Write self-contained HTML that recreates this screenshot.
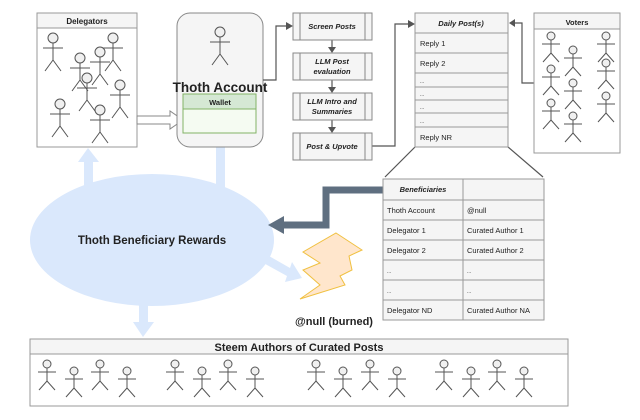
<!DOCTYPE html>
<html><head><meta charset="utf-8"><style>
body{margin:0;background:#fff;}
svg text{font-family:"Liberation Sans",Arial,sans-serif;fill:#222;}
</style></head><body>
<svg width="640" height="415" viewBox="0 0 640 415" xmlns="http://www.w3.org/2000/svg">
<defs>
<g id="sf" stroke="#555" stroke-width="1" fill="none">
<circle cx="0" cy="0" r="5" fill="#f0f0f0"/>
<line x1="0" y1="5" x2="0" y2="22"/><line x1="-10" y1="10" x2="10" y2="10"/>
<line x1="0" y1="22" x2="-8" y2="33"/><line x1="0" y1="22" x2="8" y2="33"/>
</g>
<g id="sm" stroke="#555" stroke-width="1" fill="none">
<circle cx="0" cy="0" r="4" fill="#f0f0f0"/>
<line x1="0" y1="4" x2="0" y2="17"/><line x1="-9" y1="8" x2="9" y2="8"/>
<line x1="0" y1="17" x2="-8" y2="26"/><line x1="0" y1="17" x2="8" y2="26"/>
</g>
</defs>
<!-- light blue arrows up -->
<g fill="#dae8fc">
<rect x="84" y="160" width="9" height="30"/><polygon points="78,162 88,148 99,162"/>
<rect x="216" y="145" width="9" height="45"/><polygon points="210,147 220,133 231,147"/>
<rect x="139" y="300" width="9" height="25"/><polygon points="133,322 143,337 154,322"/>
<polygon points="262,252 290,268 292,262 302,278 285,282 287,276 258,260"/>
</g>
<!-- Delegators -->
<rect x="37" y="13" width="100" height="134" fill="#fff" stroke="#999"/>
<rect x="37" y="13" width="100" height="15" fill="#f5f5f5" stroke="#999"/>
<text x="87" y="24" font-size="8" font-weight="bold" text-anchor="middle">Delegators</text>
<use href="#sf" x="53" y="38"/><use href="#sf" x="80" y="58"/><use href="#sf" x="100" y="52"/><use href="#sf" x="113" y="38"/>
<use href="#sf" x="87" y="78"/><use href="#sf" x="120" y="85"/><use href="#sf" x="60" y="104"/><use href="#sf" x="100" y="110"/>
<!-- hollow arrow -->
<polygon points="137,116 170,116 170,111 183,120 170,129 170,124 137,124" fill="#fff" stroke="#888"/>
<!-- Thoth -->
<rect x="177" y="13" width="86" height="134" rx="13" fill="#f5f5f5" stroke="#888"/>
<use href="#sf" x="220" y="32"/>
<text x="220" y="92" font-size="13.5" font-weight="bold" text-anchor="middle">Thoth Account</text>
<rect x="183" y="94" width="73" height="39" fill="#f5fbf2" stroke="#82b366"/>
<rect x="183" y="94" width="73" height="15" fill="#d5e8d4" stroke="#82b366"/>
<text x="220" y="105" font-size="7.5" font-weight="bold" text-anchor="middle">Wallet</text>
<!-- connectors -->
<g stroke="#555" fill="none" stroke-width="1.2">
<polyline points="263,80 276,80 276,26 287,26"/>
<polyline points="372,146 395,146 395,24 409,24"/>
<polyline points="534,83 522,83 522,23 514,23"/>
<line x1="332" y1="40" x2="332" y2="48"/><line x1="332" y1="80" x2="332" y2="88"/><line x1="332" y1="120" x2="332" y2="128"/>
<line x1="415" y1="147" x2="385" y2="177"/><line x1="508" y1="147" x2="543" y2="177"/>
</g>
<g fill="#555">
<polygon points="286,22 293,26 286,30"/><polygon points="408,20 415,24 408,28"/><polygon points="515,19 509,23 515,27"/>
<polygon points="328,47 332,53 336,47"/><polygon points="328,87 332,93 336,87"/><polygon points="328,127 332,133 336,127"/>
</g>
<!-- steps -->
<g stroke="#888" fill="#f5f5f5">
<rect x="293" y="13" width="79" height="27"/><rect x="293" y="53" width="79" height="27"/>
<rect x="293" y="93" width="79" height="27"/><rect x="293" y="133" width="79" height="27"/>
</g>
<g stroke="#888"><line x1="300" y1="13" x2="300" y2="40"/><line x1="365" y1="13" x2="365" y2="40"/>
<line x1="300" y1="53" x2="300" y2="80"/><line x1="365" y1="53" x2="365" y2="80"/>
<line x1="300" y1="93" x2="300" y2="120"/><line x1="365" y1="93" x2="365" y2="120"/>
<line x1="300" y1="133" x2="300" y2="160"/><line x1="365" y1="133" x2="365" y2="160"/></g>
<g font-size="7.5" font-weight="bold" font-style="italic" text-anchor="middle">
<text x="332" y="29">Screen Posts</text>
<text x="332" y="64">LLM Post</text><text x="332" y="74">evaluation</text>
<text x="332" y="104">LLM Intro and</text><text x="332" y="114">Summaries</text>
<text x="332" y="149">Post &amp; Upvote</text></g>
<!-- Daily posts -->
<g stroke="#999" fill="#f5f5f5">
<rect x="415" y="13" width="93" height="20"/><rect x="415" y="33" width="93" height="20"/><rect x="415" y="53" width="93" height="20"/>
<rect x="415" y="73" width="93" height="14"/><rect x="415" y="87" width="93" height="13"/><rect x="415" y="100" width="93" height="13"/>
<rect x="415" y="113" width="93" height="14"/><rect x="415" y="127" width="93" height="20"/></g>
<text x="461" y="26" font-size="7.5" font-weight="bold" font-style="italic" text-anchor="middle">Daily Post(s)</text>
<g font-size="7.5"><text x="420" y="46">Reply 1</text><text x="420" y="66">Reply 2</text>
<text x="420" y="83" font-size="5" fill="#888">...</text><text x="420" y="96" font-size="5" fill="#888">...</text>
<text x="420" y="109" font-size="5" fill="#888">...</text><text x="420" y="123" font-size="5" fill="#888">...</text>
<text x="420" y="140">Reply NR</text></g>
<!-- Voters -->
<rect x="534" y="13" width="86" height="140" fill="#fff" stroke="#999"/>
<rect x="534" y="13" width="86" height="16" fill="#f5f5f5" stroke="#999"/>
<text x="577" y="25" font-size="7.5" font-weight="bold" text-anchor="middle">Voters</text>
<use href="#sm" x="551" y="36"/><use href="#sm" x="573" y="50"/><use href="#sm" x="606" y="36"/><use href="#sm" x="551" y="69"/>
<use href="#sm" x="606" y="63"/><use href="#sm" x="573" y="83"/><use href="#sm" x="551" y="103"/><use href="#sm" x="606" y="96"/><use href="#sm" x="573" y="116"/>
<!-- ellipse -->
<ellipse cx="152" cy="240" rx="122" ry="66" fill="#dae8fc"/>
<text x="152" y="244" font-size="11.5" font-weight="bold" text-anchor="middle">Thoth Beneficiary Rewards</text>
<!-- dark arrow -->
<polyline points="383,190 326,190 326,225 282,225" fill="none" stroke="#5f6f80" stroke-width="7"/>
<polygon points="284,216 268,225 284,234" fill="#5f6f80"/>
<!-- lightning -->
<polygon points="336,233 362,250 349,256 352,270 340,276 345,285 300,299 320,285 303,270 320,263 303,252" fill="#ffe6cc" stroke="#f0c040"/>
<text x="334" y="325" font-size="11" font-weight="bold" text-anchor="middle">@null (burned)</text>
<!-- table -->
<g stroke="#999" fill="#f5f5f5">
<rect x="383" y="179" width="80" height="21"/><rect x="463" y="179" width="81" height="21"/>
<rect x="383" y="200" width="80" height="20"/><rect x="463" y="200" width="81" height="20"/>
<rect x="383" y="220" width="80" height="20"/><rect x="463" y="220" width="81" height="20"/>
<rect x="383" y="240" width="80" height="20"/><rect x="463" y="240" width="81" height="20"/>
<rect x="383" y="260" width="80" height="20"/><rect x="463" y="260" width="81" height="20"/>
<rect x="383" y="280" width="80" height="20"/><rect x="463" y="280" width="81" height="20"/>
<rect x="383" y="300" width="80" height="20"/><rect x="463" y="300" width="81" height="20"/></g>
<g font-size="7.5"><text x="423" y="192" font-weight="bold" font-style="italic" text-anchor="middle">Beneficiaries</text>
<text x="387" y="213">Thoth Account</text><text x="467" y="213">@null</text>
<text x="387" y="233">Delegator 1</text><text x="467" y="233">Curated Author 1</text>
<text x="387" y="253">Delegator 2</text><text x="467" y="253">Curated Author 2</text>
<text x="387" y="273" font-size="5" fill="#888">...</text><text x="467" y="273" font-size="5" fill="#888">...</text>
<text x="387" y="293" font-size="5" fill="#888">...</text><text x="467" y="293" font-size="5" fill="#888">...</text>
<text x="387" y="313">Delegator ND</text><text x="467" y="313">Curated Author NA</text></g>
<!-- Steem authors -->
<rect x="30" y="339" width="538" height="67" fill="#fff" stroke="#999"/>
<rect x="30" y="339" width="538" height="15" fill="#f5f5f5" stroke="#999"/>
<text x="299" y="351" font-size="11" font-weight="bold" text-anchor="middle">Steem Authors of Curated Posts</text>
<g>
<use href="#sm" x="47" y="364"/><use href="#sm" x="74" y="371"/><use href="#sm" x="100" y="364"/><use href="#sm" x="127" y="371"/>
<use href="#sm" x="175" y="364"/><use href="#sm" x="202" y="371"/><use href="#sm" x="228" y="364"/><use href="#sm" x="255" y="371"/>
<use href="#sm" x="316" y="364"/><use href="#sm" x="343" y="371"/><use href="#sm" x="370" y="364"/><use href="#sm" x="397" y="371"/>
<use href="#sm" x="444" y="364"/><use href="#sm" x="471" y="371"/><use href="#sm" x="497" y="364"/><use href="#sm" x="524" y="371"/>
</g>
</svg>
</body></html>
